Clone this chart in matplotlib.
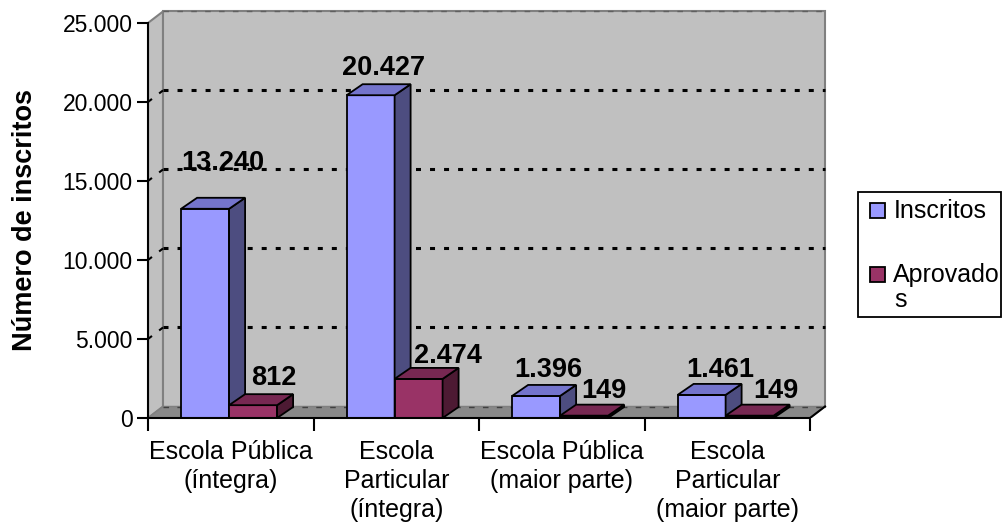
import numpy as np
import matplotlib.pyplot as plt
from matplotlib.patches import Polygon, Rectangle
from matplotlib.ticker import FuncFormatter

plt.rcParams['font.family'] = ['Liberation Sans', 'DejaVu Sans']
plt.rcParams['lines.scale_dashes'] = False

# ---- data
categories = ['Escola Pública\n(íntegra)', 'Escola\nParticular\n(íntegra)',
              'Escola Pública\n(maior parte)', 'Escola\nParticular\n(maior parte)']
inscritos = [13240, 20427, 1396, 1461]
aprovados = [812, 2474, 149, 149]
y_ticks = [0, 5000, 10000, 15000, 20000, 25000]

# label nudges (pixels, relative to front face centre / top)
ins_lx = [18, 13, 12, 18.5]
ins_ly = [39, 20, 19, 18]
apr_lx = [20.5, 29.5, 19.5, 26]
apr_ly = [20, 16, 17.6, 17.6]

# ---- colours (Excel 3D look: front / top / side)
INS = ('#9999FF', '#7474CC', '#4D4D80')
APR = ('#993366', '#772852', '#4D1A33')

W, H = 1003, 525
fig = plt.figure(figsize=(W / 100, H / 100), dpi=100)
ax_l, ax_r, ax_b, ax_t = 148, 851.4, 418, 4
ax = fig.add_axes([ax_l / W, 1 - ax_b / H, (ax_r - ax_l) / W, (ax_b - ax_t) / H])
XMAX, YMAX = 4.25, 26200
ax.set_xlim(0, XMAX)
ax.set_ylim(0, YMAX)
ax.patch.set_visible(False)

sx = (ax_r - ax_l) / XMAX   # px per category
sy = (ax_b - ax_t) / YMAX   # px per unit


def depth(px, py):
    return px / sx, py / sy


top = y_ticks[-1]
ncat = len(categories)

# ---- walls and floor
wdx, wdy = depth(15, 11.5)
ax.add_patch(Polygon([(0, 0), (wdx, wdy), (wdx, top + wdy), (0, top)],
                     fc='#C0C0C0', ec='#808080', lw=1.5, zorder=0))
ax.add_patch(Rectangle((wdx, wdy), ncat, top, fc='#C0C0C0', ec='#808080',
                       lw=1.5, zorder=0))
ax.add_patch(Polygon([(0, 0), (ncat, 0), (ncat + wdx, wdy), (wdx, wdy)],
                     fc='#888888', ec='#808080', lw=1, zorder=0.5))
ax.plot([ncat, ncat + wdx], [0, wdy], color='k', lw=1.5, zorder=0.6)

dots = (0, (3.6, 6.5))
for v in y_ticks[1:-1]:
    ax.plot([wdx, ncat + wdx], [v + wdy] * 2, color='k', lw=2.2, ls=dots, zorder=1)
    ax.plot([0, wdx], [v, v + wdy], color='k', lw=1.5, ls=dots, zorder=1)
ax.plot([wdx, ncat + wdx], [wdy] * 2, color='#404040', lw=1, ls=(0, (4, 6)), zorder=0.7)
ax.plot([wdx, ncat + wdx], [top + wdy] * 2, color='#606060', lw=1, ls=(0, (4, 6)), zorder=0.7)

# ---- bars
bw = 0.29
bdx, bdy = depth(16, 11)
x_ins = np.arange(ncat) + 0.2
x_apr = x_ins + bw


def draw_series(xs, vals, cols, z, lx, ly):
    ax.bar(xs, vals, width=bw, align='edge', color=cols[0], edgecolor='k',
           lw=1.3, zorder=z)
    for x, v, ox, oy in zip(xs, vals, lx, ly):
        ax.add_patch(Polygon([(x + bw, 0), (x + bw + bdx, bdy), (x + bw + bdx, v + bdy), (x + bw, v)],
                             fc=cols[2], ec='k', lw=1.3, zorder=z))
        ax.add_patch(Polygon([(x, v), (x + bw, v), (x + bw + bdx, v + bdy), (x + bdx, v + bdy)],
                             fc=cols[1], ec='k', lw=1.3, zorder=z))
        ax.annotate(f'{v:,}'.replace(',', '.'), xy=(x + bw / 2, v), xytext=(ox, oy),
                    textcoords='offset pixels', ha='center', va='baseline',
                    fontsize=19.5, fontweight='bold', zorder=6)


draw_series(x_ins, inscritos, INS, 2, ins_lx, ins_ly)
draw_series(x_apr, aprovados, APR, 3, apr_lx, apr_ly)

# ---- axes
for s in ['top', 'right']:
    ax.spines[s].set_visible(False)
ax.spines['left'].set_bounds(0, top)
ax.spines['bottom'].set_bounds(0, ncat)
ax.spines['left'].set_linewidth(1.5)
ax.spines['bottom'].set_linewidth(1.5)
ax.spines['left'].set_zorder(4)
ax.spines['bottom'].set_zorder(4)

ax.set_yticks(y_ticks)
ax.yaxis.set_major_formatter(FuncFormatter(lambda v, p: f'{v:,.0f}'.replace(',', '.')))
ax.tick_params(axis='y', length=8, width=1.5, labelsize=16.5, pad=3)

ax.set_xticks(np.arange(ncat + 1))
ax.set_xticklabels([])
ax.set_xticks(np.arange(ncat) + 0.5, minor=True)
ax.set_xticklabels(categories, minor=True, fontsize=18, linespacing=1.25)
ax.tick_params(axis='x', which='major', length=9, width=1.5)
ax.tick_params(axis='x', which='minor', length=0, pad=16)

fig.text(25 / W, 1 - 220 / H, 'Número de inscritos', rotation=90, ha='center',
         va='center', fontsize=19.5, fontweight='bold')

# ---- legend
fig.add_artist(Rectangle((858 / W, 1 - 317 / H), (1001 - 858) / W, (317 - 192) / H,
                         transform=fig.transFigure, fill=False, ec='k', lw=1.3))
for col, y in [(INS[0], 218), (APR[0], 282)]:
    fig.add_artist(Rectangle((870 / W, 1 - y / H), 15 / W, 15 / H,
                             transform=fig.transFigure, fc=col, ec='k', lw=1.3))
fig.text(894 / W, 1 - 218 / H, 'Inscritos', va='baseline', fontsize=18)
fig.text(893 / W, 1 - 282 / H, 'Aprovado', va='baseline', fontsize=18)
fig.text(894 / W, 1 - 307 / H, 's', va='baseline', fontsize=18)

fig.savefig('out.png', dpi=100)
